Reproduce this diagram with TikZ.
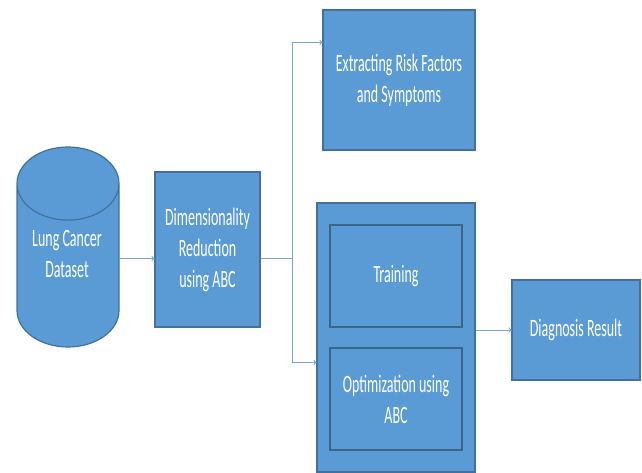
\documentclass[tikz,border=0pt]{standalone}
\usepackage{fontspec}
\setmainfont[FakeStretch=0.56]{Carlito}
\usepackage{tikz}
\usetikzlibrary{shapes.geometric}

\definecolor{boxfill}{RGB}{91,155,213}
\definecolor{boxline}{RGB}{65,113,156}
\definecolor{linkline}{RGB}{125,165,210}

\begin{document}
\begin{tikzpicture}[x=1pt,y=-1pt,->,>=to,thin,
  main node/.style={rectangle,draw=boxline,line width=1.2pt,fill=boxfill,text=white,
    inner sep=0pt,align=center,font=\fontsize{25}{31}\selectfont},
  inner node/.style={main node,line width=1.6pt,draw=boxline!90!black},
  link/.style={draw=linkline,line width=1pt}]

  \useasboundingbox (0,0) rectangle (642,473);

  \node[main node,cylinder,shape border rotate=90,aspect=1.05,anchor=shape center,
    minimum width=102pt,minimum height=200pt] (1) at (68,247) {\phantom{Lung Cancer}};
  \node[main node,draw=none,fill=none] (1t) at (67,254) {Lung Cancer\\Dataset};
  \node[main node,minimum width=105pt,minimum height=155pt] (2) at (207.5,249.5)
    {Dimensionality\\Reduction\\using ABC};
  \node[main node,minimum width=152pt,minimum height=140pt] (3) at (399,80)
    {Extracting Risk Factors\\and Symptoms};
  \node[main node,minimum width=158pt,minimum height=269pt] (4) at (396,337.5) {};
  \node[inner node,minimum width=132pt,minimum height=102pt] (5) at (396,276) {Training};
  \node[inner node,minimum width=132pt,minimum height=102pt] (6) at (396,399)
    {Optimization using\\ABC};
  \node[main node,minimum width=128pt,minimum height=100pt] (7) at (576,330)
    {Diagnosis Result};

  \coordinate (split) at (292,258);

  \draw[link] ([yshift=-9pt]2.west -| 1.east) -- ([yshift=-9pt]2.west);
  \draw[link,-] (2.east |- split) -- (split);
  \draw[link] (split) |- ([yshift=-33pt]3.north west);
  \draw[link] (split) |- ([yshift=-25pt]4.west);
  \draw[link] (7.west -| 4.east) -- (7.west);
\end{tikzpicture}
\end{document}
